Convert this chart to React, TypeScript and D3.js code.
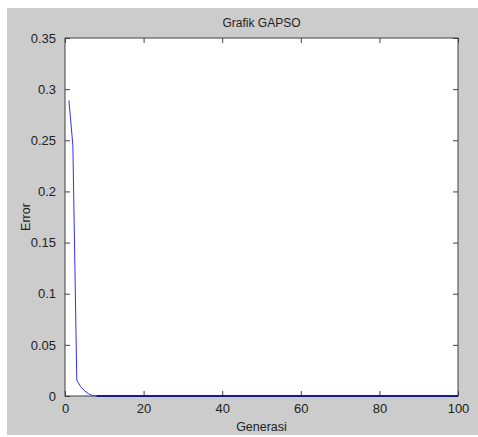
import { useRef, useEffect } from 'react';
import * as d3 from 'd3';

const generations = [1, 2, 3, 4, 5, 6, 7, 8, 9, 10, 15, 20, 30, 40, 50, 60, 70, 80, 90, 100];
const errors = [0.289, 0.245, 0.0155, 0.009, 0.005, 0.0022, 0.0004, 0, 0, 0, 0, 0, 0, 0, 0, 0, 0, 0, 0, 0];
const xTicks = [0, 20, 40, 60, 80, 100];
const yTicks = [0, 0.05, 0.1, 0.15, 0.2, 0.25, 0.3, 0.35];

const W = 478;
const H = 437;

const App = () => {
  const ref = useRef<SVGSVGElement>(null);

  useEffect(() => {
    const svg = d3.select(ref.current);
    svg.selectAll('*').remove();

    const MARGIN = { TOP: 38, RIGHT: 20, BOTTOM: 41, LEFT: 65 };
    const WIDTH = W - MARGIN.LEFT - MARGIN.RIGHT;
    const HEIGHT = H - MARGIN.TOP - MARGIN.BOTTOM;
    const font = 'Liberation Sans, Arial, sans-serif';
    const axisColor = '#404040';

    svg.append('rect')
      .attr('x', 7).attr('y', 8)
      .attr('width', W - 7).attr('height', H - 10)
      .attr('fill', '#cccccc');

    const g = svg.append('g')
      .attr('transform', `translate(${MARGIN.LEFT}, ${MARGIN.TOP})`);

    const xScale = d3.scaleLinear().domain([0, 100]).range([0, WIDTH]);
    const yScale = d3.scaleLinear().domain([0, 0.35]).range([HEIGHT, 0]);

    g.append('rect')
      .attr('width', WIDTH).attr('height', HEIGHT)
      .attr('fill', '#ffffff');

    const line = d3.line<number>()
      .x((d, i) => xScale(generations[i]))
      .y(d => yScale(d));

    g.append('path')
      .attr('d', line(errors))
      .attr('fill', 'none')
      .attr('stroke', '#3030ff')
      .attr('stroke-width', 1);

    const styleAxis = (sel: any) => {
      sel.select('.domain').remove();
      sel.selectAll('line').attr('stroke', axisColor);
      sel.selectAll('text')
        .attr('fill', '#222')
        .style('font-family', font)
        .style('font-size', '13px');
    };

    g.append('g')
      .attr('transform', `translate(0, ${HEIGHT})`)
      .call(d3.axisBottom(xScale).tickValues(xTicks).tickSizeInner(-5).tickSizeOuter(0).tickPadding(8).tickFormat(d3.format('d')))
      .call(styleAxis);

    g.append('g')
      .call(d3.axisTop(xScale).tickValues(xTicks).tickSizeInner(-5).tickSizeOuter(0).tickFormat(() => ''))
      .call(styleAxis);

    g.append('g')
      .call(d3.axisLeft(yScale).tickValues(yTicks).tickSizeInner(-5).tickSizeOuter(0).tickPadding(9).tickFormat(d => String(+(+d).toFixed(2))))
      .call(styleAxis);

    g.append('g')
      .attr('transform', `translate(${WIDTH}, 0)`)
      .call(d3.axisRight(yScale).tickValues(yTicks).tickSizeInner(-5).tickSizeOuter(0).tickFormat(() => ''))
      .call(styleAxis);

    g.append('rect')
      .attr('width', WIDTH).attr('height', HEIGHT)
      .attr('fill', 'none')
      .attr('stroke', axisColor)
      .attr('stroke-width', 1);

    // the part of the line lying on the zero axis looks darker
    const zeroPart = d3.line<number>()
      .defined(d => d === 0)
      .x((d, i) => xScale(generations[i]))
      .y(d => yScale(d));

    g.append('path')
      .attr('d', zeroPart(errors))
      .attr('fill', 'none')
      .attr('stroke', '#000090')
      .attr('stroke-width', 1.5);

    svg.append('text')
      .attr('x', MARGIN.LEFT + WIDTH / 2)
      .attr('y', 27)
      .attr('text-anchor', 'middle')
      .attr('fill', '#222')
      .style('font-family', font)
      .style('font-size', '12px')
      .text('Grafik GAPSO');

    svg.append('text')
      .attr('x', MARGIN.LEFT + WIDTH / 2)
      .attr('y', 431)
      .attr('text-anchor', 'middle')
      .attr('fill', '#222')
      .style('font-family', font)
      .style('font-size', '12.5px')
      .text('Generasi');

    svg.append('text')
      .attr('transform', `translate(30, ${MARGIN.TOP + HEIGHT / 2}) rotate(-90)`)
      .attr('text-anchor', 'middle')
      .attr('fill', '#222')
      .style('font-family', font)
      .style('font-size', '12.5px')
      .text('Error');
  }, []);

  return (
    <svg
      ref={ref}
      width={W}
      height={H}
      style={{ position: 'absolute', left: 0, top: 0, background: '#ffffff' }}
    />
  );
};

export default App;
